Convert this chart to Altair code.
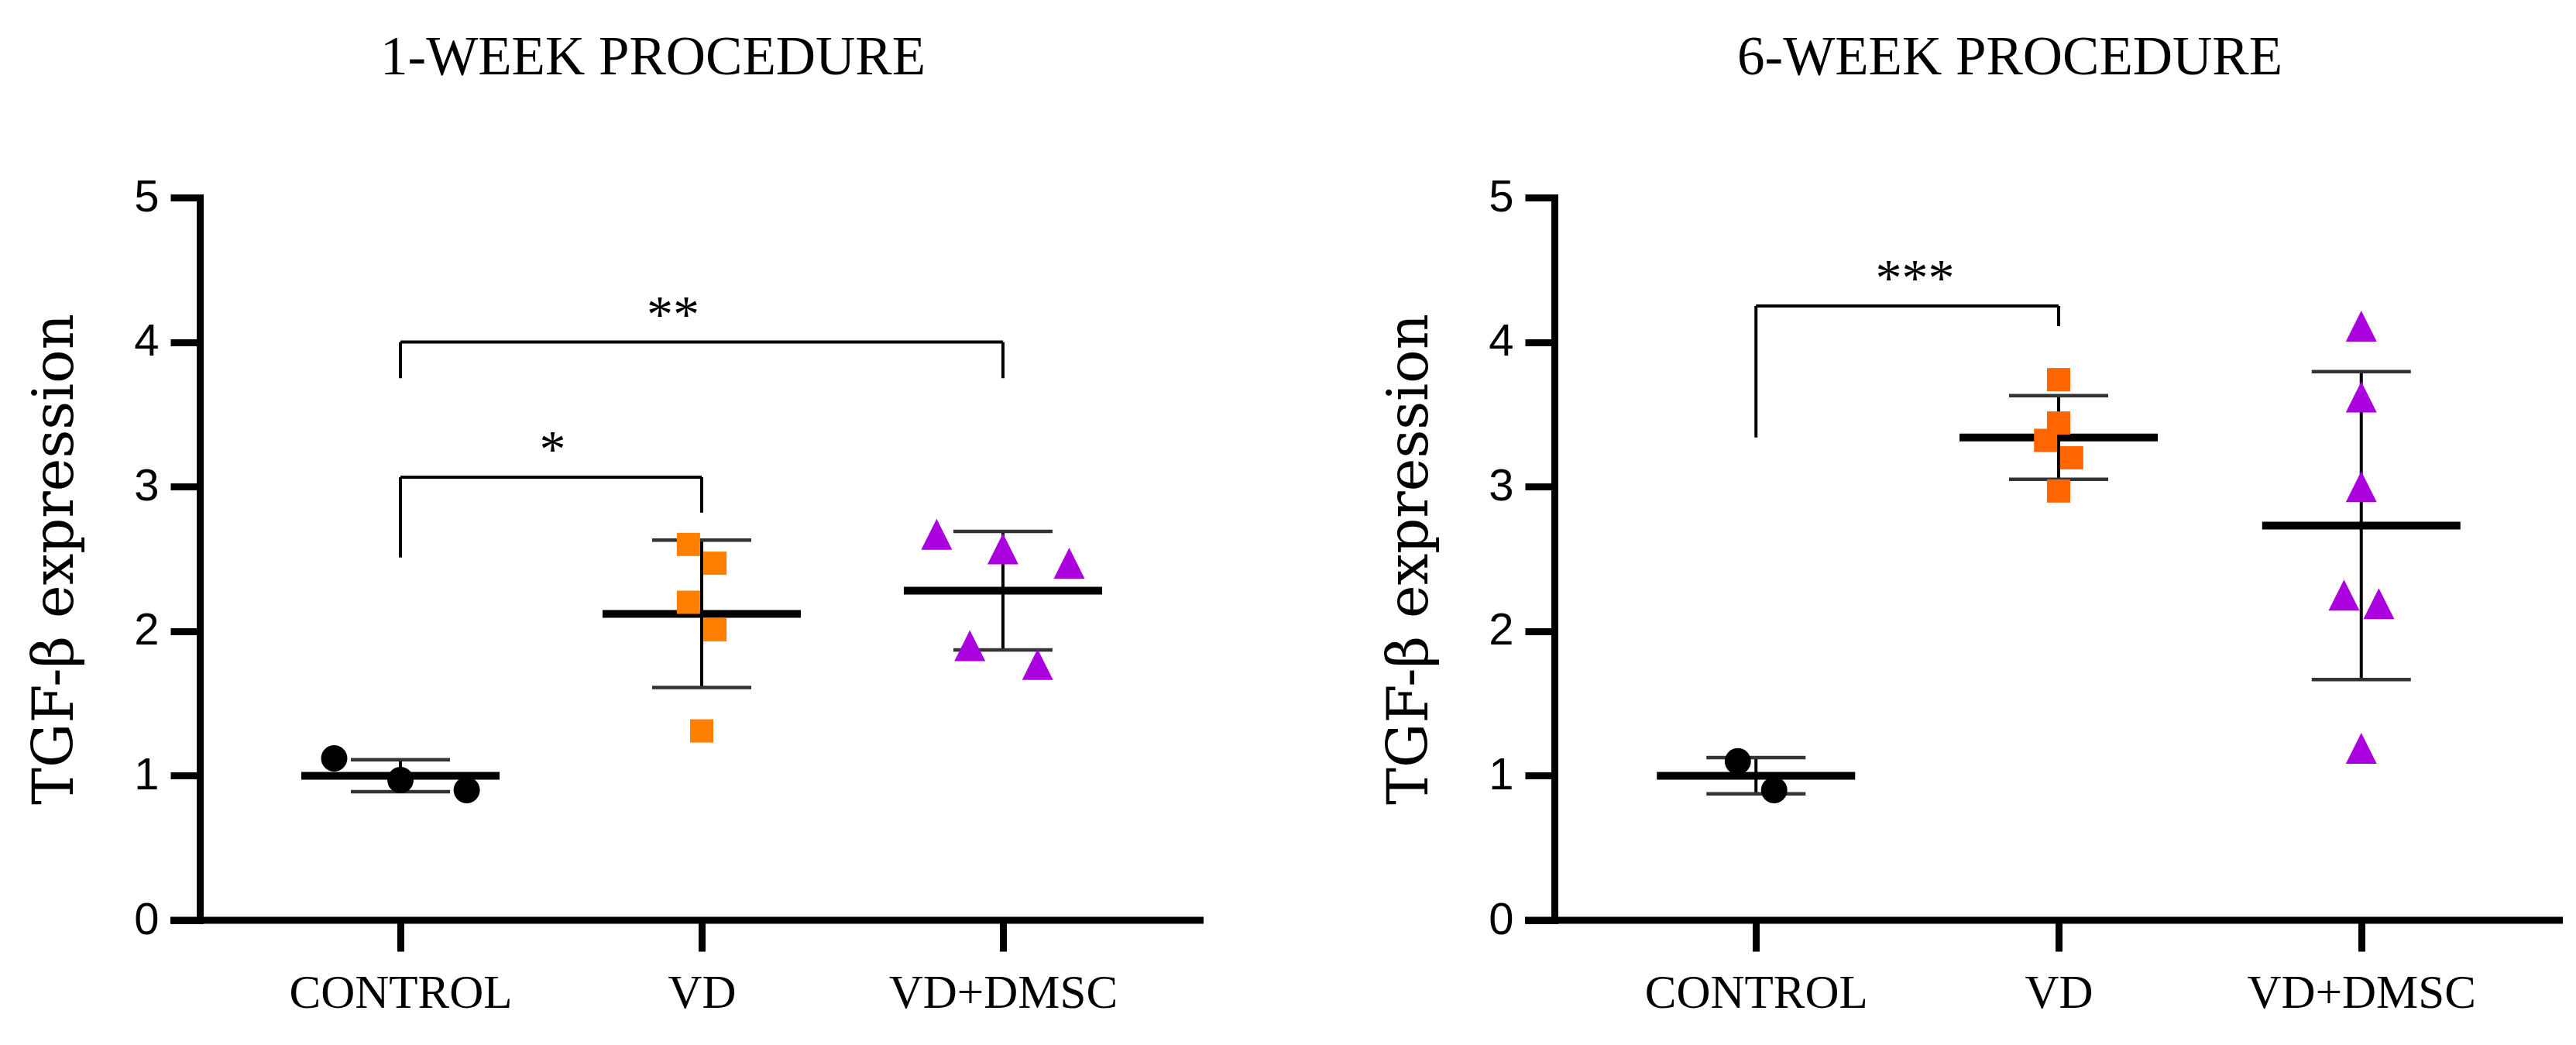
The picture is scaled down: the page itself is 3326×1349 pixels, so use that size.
import json
import altair as alt
import pandas as pd

groups = ["CONTROL", "VD", "VD+DMSC"]

# ---------------- 1-WEEK PROCEDURE ----------------
w1_control = [1.12, 0.97, 0.90]
w1_vd = [2.60, 2.47, 2.20, 2.01, 1.31]
w1_dmsc = [2.67, 2.57, 2.47, 1.90, 1.77]
# horizontal scatter of the points (in category units)
w1_control_jit = [-0.22, 0.0, 0.22]
w1_vd_jit = [-0.044, 0.044, -0.044, 0.044, 0.0]
w1_dmsc_jit = [-0.22, 0.0, 0.22, -0.11, 0.115]
w1_mean = [1.00, 2.12, 2.28]
w1_sd = [0.11, 0.51, 0.41]
# brackets: from group, to group, top, left leg end, right leg end
w1_br_from = [0, 0]
w1_br_to = [1, 2]
w1_br_top = [3.065, 4.00]
w1_br_left_end = [2.51, 3.75]
w1_br_right_end = [2.82, 3.75]
w1_br_label = ["*", "**"]
w1_br_label_x = [0.505, 0.905]

# ---------------- 6-WEEK PROCEDURE ----------------
w6_control = [1.10, 0.90]
w6_vd = [3.74, 3.44, 3.32, 3.20, 2.97]
w6_dmsc = [4.11, 3.62, 3.00, 2.25, 2.19, 1.19]
w6_control_jit = [-0.06, 0.06]
w6_vd_jit = [0.0, 0.0, -0.043, 0.043, 0.0]
w6_dmsc_jit = [0.0, 0.0, 0.0, -0.057, 0.058, 0.0]
w6_mean = [1.00, 3.34, 2.73]
w6_sd = [0.125, 0.29, 1.065]
w6_br_from = [0]
w6_br_to = [1]
w6_br_top = [4.25]
w6_br_left_end = [3.34]
w6_br_right_end = [4.11]
w6_br_label = ["***"]
w6_br_label_x = [0.525]

Y_TICKS = [0, 1, 2, 3, 4, 5]
H = 933
SHAPES = ["circle", "square", "M0,-1L1,1L-1,1Z"]
SIZES = [1150, 900, 1600]


def panel(title, width, series, jits, means, sds, br, colors):
    stats = pd.DataFrame({
        "group": groups,
        "x": list(range(len(groups))),
        "mean": means,
        "lo": [m - s for m, s in zip(means, sds)],
        "hi": [m + s for m, s in zip(means, sds)],
    })
    fr, to, top, le, re, lab, labx = br
    segs = []
    for a, b, t, l, r in zip(fr, to, top, le, re):
        segs.append({"x": a, "x2": b, "y": t, "y2": t})
        segs.append({"x": a, "x2": a, "y": t, "y2": l})
        segs.append({"x": b, "x2": b, "y": t, "y2": r})
    segs = pd.DataFrame(segs)
    labs = pd.DataFrame({"x": labx, "y": top, "label": lab})

    xscale = alt.Scale(domain=[-0.666, len(groups) - 1 + 0.666], nice=False, zero=False)
    yscale = alt.Scale(domain=[0, 5], nice=False)
    xaxis = alt.Axis(
        values=list(range(len(groups))),
        labelExpr=json.dumps(groups) + "[datum.value]",
        title=None, domain=False, grid=False,
        tickSize=40, tickWidth=9, tickColor="black",
        labelFont="Liberation Serif", labelFontSize=61, labelColor="black",
        labelPadding=24, labelFlush=False, labelOverlap=False, labelLimit=1000,
    )
    yaxis = alt.Axis(
        values=Y_TICKS, title="TGF-β expression", grid=False,
        titleFont="DejaVu Serif", titleFontSize=72, titleFontWeight="normal",
        titleColor="black", titleX=-165, titleBaseline="alphabetic",
        labelFont="Liberation Sans", labelFontSize=58, labelColor="black",
        labelPadding=15, tickSize=38, tickWidth=9, tickColor="black",
        domainWidth=9, domainColor="black", domainCap="square",
    )

    X = lambda f: alt.X(f, scale=xscale, axis=xaxis)
    Y = lambda f: alt.Y(f, scale=yscale, axis=yaxis)

    xline = alt.Chart(pd.DataFrame({"y": [0]})).mark_rule(
        color="black", strokeWidth=9
    ).encode(x=alt.value(-38), x2=alt.value(width), y=Y("y:Q"))

    sd_line = alt.Chart(stats).mark_rule(color="black", strokeWidth=4).encode(
        x=X("x:Q"), y=Y("lo:Q"), y2="hi:Q")
    cap_hi = alt.Chart(stats).mark_tick(
        orient="horizontal", size=128, thickness=4.5, color="#333333", opacity=1
    ).encode(x=X("x:Q"), y=Y("hi:Q"))
    cap_lo = alt.Chart(stats).mark_tick(
        orient="horizontal", size=128, thickness=4.5, color="#333333", opacity=1
    ).encode(x=X("x:Q"), y=Y("lo:Q"))
    mean_line = alt.Chart(stats).mark_tick(
        orient="horizontal", size=256, thickness=10, color="black", opacity=1
    ).encode(x=X("x:Q"), y=Y("mean:Q"))

    point_layers = []
    for gi, (vals, jit) in enumerate(zip(series, jits)):
        df = pd.DataFrame({"x": [gi + j for j in jit], "value": vals})
        point_layers.append(
            alt.Chart(df).mark_point(
                filled=True, opacity=1, strokeWidth=0,
                shape=SHAPES[gi], size=SIZES[gi], color=colors[gi],
            ).encode(x=X("x:Q"), y=Y("value:Q"))
        )

    brackets = alt.Chart(segs).mark_rule(color="black", strokeWidth=4).encode(
        x=X("x:Q"), x2="x2:Q", y=Y("y:Q"), y2="y2:Q")
    stars = alt.Chart(labs).mark_text(
        font="Liberation Serif", fontSize=68, baseline="alphabetic", dy=-14, color="black"
    ).encode(x=X("x:Q"), y=Y("y:Q"), text="label:N")

    return alt.layer(
        xline, brackets, stars, sd_line, cap_hi, cap_lo, mean_line, *point_layers
    ).properties(
        width=width, height=H,
        title=alt.TitleParams(
            title, font="Liberation Serif", fontSize=71, fontWeight="normal",
            color="black", anchor="middle", dx=-63, offset=59, baseline="alphabetic",
        ),
    )


left = panel(
    "1-WEEK PROCEDURE", 1296,
    [w1_control, w1_vd, w1_dmsc],
    [w1_control_jit, w1_vd_jit, w1_dmsc_jit],
    w1_mean, w1_sd,
    (w1_br_from, w1_br_to, w1_br_top, w1_br_left_end, w1_br_right_end, w1_br_label, w1_br_label_x),
    ["#000000", "#FF8000", "#AA00DD"],
)
right = panel(
    "6-WEEK PROCEDURE", 1302,
    [w6_control, w6_vd, w6_dmsc],
    [w6_control_jit, w6_vd_jit, w6_dmsc_jit],
    w6_mean, w6_sd,
    (w6_br_from, w6_br_to, w6_br_top, w6_br_left_end, w6_br_right_end, w6_br_label, w6_br_label_x),
    ["#000000", "#FF6600", "#AA00DD"],
)

chart = alt.hconcat(left, right, spacing=224).resolve_scale(
    x="independent", y="independent",
).properties(
    padding={"left": 34, "top": 39, "right": 5, "bottom": 5},
    background="white",
).configure_view(stroke=None)

chart.save("out.html", embed_options={"renderer": "svg", "actions": False})
